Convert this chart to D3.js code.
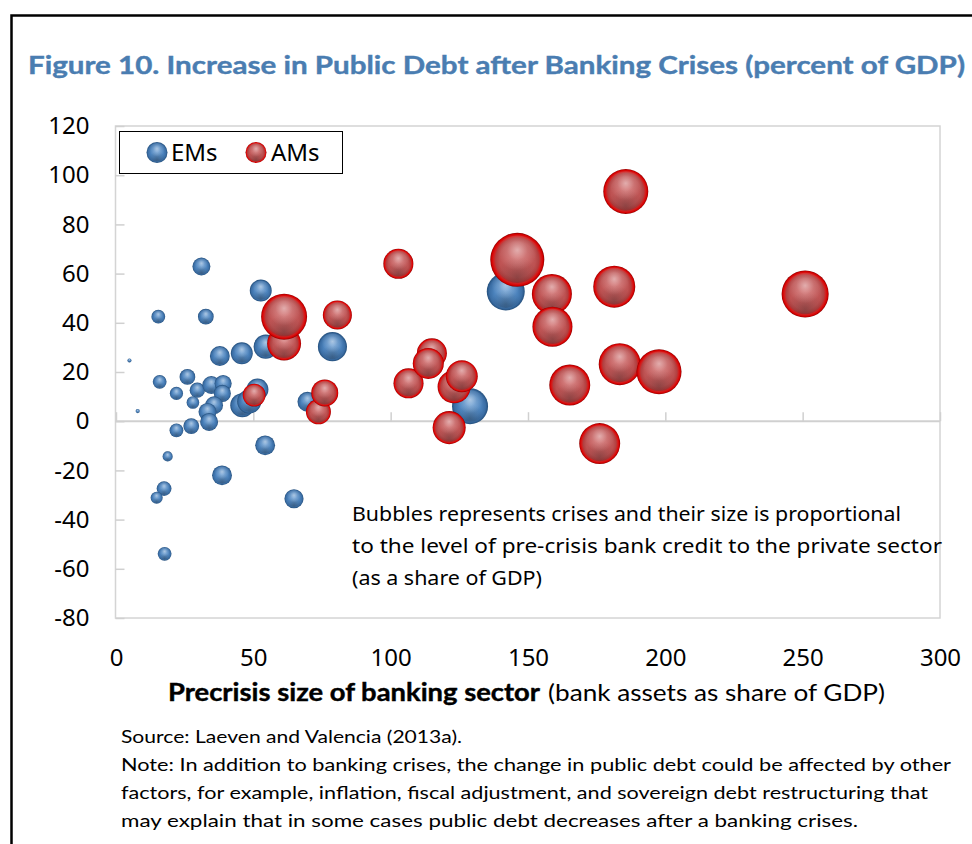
<!DOCTYPE html>
<html><head><meta charset="utf-8">
<script src="https://cdn.jsdelivr.net/npm/d3@7"></script>
<style>body{margin:0;background:#fff} svg{display:block}</style>
</head><body><svg id="c" width="972" height="844"></svg>
<script>
// ---- data ----
const emX      = [4.9, 7.9, 15.4, 15.9, 22.0, 26.0, 29.6, 28.0, 34.7, 39.0, 38.7, 35.7, 33.3, 33.9, 27.4, 22.0, 18.8, 38.6, 17.5, 14.8, 17.7, 54.3, 64.8, 37.8, 45.8, 31.1, 32.7, 52.7, 54.5, 78.8, 46.0, 48.5, 51.5, 69.7, 141.9, 128.9];
const emY      = [24.7, 4.1, 42.5, 16.0, 11.3, 18.0, 12.6, 7.6, 14.7, 15.3, 11.3, 6.5, 3.8, -0.3, -2.0, -3.7, -14.3, -22.0, -27.4, -31.1, -53.9, -9.8, -31.5, 26.5, 27.6, 62.9, 42.5, 53.1, 30.3, 30.3, 6.5, 8.0, 12.9, 7.9, 52.7, 6.1];
const emCredit = [1.1, 1.2, 13, 13, 12, 17, 16, 11, 22, 20, 20, 22, 22, 22, 17, 13, 7, 27, 15, 10, 13, 27, 25, 27, 33, 22, 17, 33, 40, 58, 40, 40, 33, 27, 99, 89];

const amX      = [61.2, 61.2, 80.6, 50.3, 73.7, 76.0, 102.8, 106.5, 115.0, 113.7, 121.3, 123.1, 125.9, 146.1, 158.7, 158.9, 165.2, 176.1, 181.4, 183.4, 185.6, 197.7, 250.9];
const amY      = [31.6, 42.5, 43.2, 10.6, 3.8, 11.5, 64.0, 15.4, 27.6, 23.5, -2.6, 14.0, 18.3, 65.6, 51.7, 38.4, 14.7, -9.1, 54.7, 23.2, 93.4, 20.1, 51.7];
const amCredit = [79, 145, 58, 36, 43, 50, 62, 62, 62, 66, 75, 75, 70, 200, 110, 110, 115, 115, 121, 121, 139, 139, 152];

const seriesNames = ["EMs", "AMs"];
const xTicks = [0, 50, 100, 150, 200, 250, 300];
const yTicks = [-80, -60, -40, -20, 0, 20, 40, 60, 80, 100, 120];

const titleText = "Figure 10. Increase in Public Debt after Banking Crises (percent of GDP)";
const xTitleBold = "Precrisis size of banking sector";
const xTitleRest = "(bank assets as share of GDP)";
const noteLines = [
  "Bubbles represents crises and their size is proportional",
  "to the level of pre-crisis bank credit to the private sector",
  "(as a share of GDP)"
];
const sourceLines = [
  "Source: Laeven and Valencia (2013a).",
  "Note: In addition to banking crises, the change in public debt could be affected by other",
  "factors, for example, inflation, fiscal adjustment, and sovereign debt restructuring that",
  "may explain that in some cases public debt decreases after a banking crises."
];

// ---- layout ----
const svg = d3.select("#c");
const L = 116, R = 940, T = 126, B = 618;
const x = d3.scaleLinear().domain([0, 300]).range([L, R]);
const y = d3.scaleLinear().domain([-80, 120]).range([B, T]);
const rScale = d3.scaleSqrt().domain([0, 200]).range([0, 27]);
const fmt = d => String(d);

// ---- gradients ----
const defs = svg.append("defs");
function radial(id, stops, cx = "50%", cy = "50%", r = "50%") {
  const g = defs.append("radialGradient").attr("id", id)
    .attr("cx", cx).attr("cy", cy).attr("r", r);
  stops.forEach(s => g.append("stop").attr("offset", s[0]).attr("stop-color", s[1]).attr("stop-opacity", s[2] == null ? 1 : s[2]));
}
radial("gBlue", [[0, "#6a9ed4"], [0.6, "#4c83bd"], [0.86, "#3b6ea5"], [1, "#244f7c"]]);
radial("gRed", [[0, "#cf6666"], [0.66, "#bd5252"], [0.8, "#b24040"], [0.88, "#d41c1c"], [0.95, "#d80000"], [1, "#880000"]]);
radial("hiLite", [[0, "#ffffff", 0.5], [0.5, "#ffffff", 0.16], [1, "#ffffff", 0]], "50%", "30%", "42%");
radial("shade", [[0, "#202020", 0.3], [0.6, "#202020", 0.1], [1, "#202020", 0]], "50%", "88%", "45%");

function bubble(sel, cx, cy, r, base) {
  const g = sel.append("g");
  g.append("circle").attr("cx", cx).attr("cy", cy).attr("r", r).attr("fill", `url(#${base})`);
  g.append("circle").attr("cx", cx).attr("cy", cy).attr("r", r * 0.86).attr("fill", "url(#shade)");
  g.append("circle").attr("cx", cx).attr("cy", cy).attr("r", r * 0.9).attr("fill", "url(#hiLite)");
}

// ---- frame ----
svg.append("path").attr("d", "M11.5,844 V15.5 H972").attr("fill", "none").attr("stroke", "#000").attr("stroke-width", 2.5);

// ---- title ----
svg.append("text").attr("x", 28).attr("y", 74)
  .attr("font-family", "Lato, 'Open Sans', sans-serif").attr("font-weight", "bold").attr("font-size", 25)
  .attr("fill", "#4a7db1").attr("stroke", "#4a7db1").attr("stroke-width", 0.4)
  .attr("textLength", 937).attr("lengthAdjust", "spacingAndGlyphs")
  .text(titleText);

// ---- plot area ----
svg.append("rect").attr("x", 115.5).attr("y", T).attr("width", R - 115.5).attr("height", B - T)
  .attr("fill", "none").attr("stroke", "#d4d4d4").attr("stroke-width", 1.5);

// zero line
svg.append("line").attr("x1", 115.5).attr("x2", R).attr("y1", y(0)).attr("y2", y(0))
  .attr("stroke", "#d0d0d0").attr("stroke-width", 2);

// y axis (ticks inside, labels outside)
const yAxis = svg.append("g").attr("transform", "translate(115.5,0)")
  .call(d3.axisLeft(y).tickValues(yTicks).tickSizeInner(-9).tickSizeOuter(0).tickPadding(26).tickFormat(fmt));
yAxis.select(".domain").remove();
yAxis.selectAll(".tick line").attr("stroke", "#d0d0d0").attr("stroke-width", 1.5);
yAxis.selectAll("text").attr("font-family", "'Noto Sans', 'Open Sans', sans-serif").attr("font-size", 24).attr("fill", "#000");

// x ticks on zero line
const xTickAxis = svg.append("g").attr("transform", `translate(0,${y(0)})`)
  .call(d3.axisBottom(x).tickValues(xTicks).tickSizeInner(-9).tickSizeOuter(0).tickFormat(""));
xTickAxis.select(".domain").remove();
xTickAxis.selectAll(".tick line").attr("stroke", "#d0d0d0").attr("stroke-width", 1.5);

// x labels at bottom
const xLab = svg.append("g").attr("transform", `translate(0,${B})`)
  .call(d3.axisBottom(x).tickValues(xTicks).tickSize(0).tickPadding(31).tickFormat(fmt));
xLab.select(".domain").remove();
xLab.selectAll("text").attr("font-family", "'Noto Sans', 'Open Sans', sans-serif").attr("font-size", 24).attr("fill", "#000");

// ---- bubbles ----
const em = emX.map((v, i) => ({ x: v, y: emY[i], c: emCredit[i] }));
const am = amX.map((v, i) => ({ x: v, y: amY[i], c: amCredit[i] }));
const gB = svg.append("g");
em.forEach(d => bubble(gB, x(d.x), y(d.y), rScale(d.c), "gBlue"));
am.forEach(d => bubble(gB, x(d.x), y(d.y), rScale(d.c), "gRed"));

// ---- legend ----
const lg = svg.append("g");
lg.append("rect").attr("x", 119.5).attr("y", 131.5).attr("width", 223).attr("height", 42)
  .attr("fill", "#fff").attr("stroke", "#000").attr("stroke-width", 1);
bubble(lg, 157, 152.5, 10.5, "gBlue");
bubble(lg, 256, 152.5, 10.5, "gRed");
lg.append("text").attr("x", 171).attr("y", 161).attr("font-family", "'Noto Sans', sans-serif").attr("font-size", 24).text(seriesNames[0]);
lg.append("text").attr("x", 271).attr("y", 161).attr("font-family", "'Noto Sans', sans-serif").attr("font-size", 24).text(seriesNames[1]);

// ---- annotation ----
const noteWidths = [549, 590, 190];
noteLines.forEach((t, i) => {
  svg.append("text").attr("x", 352).attr("y", 521 + i * 32)
    .attr("font-family", "'Noto Sans', sans-serif").attr("font-size", 19).attr("fill", "#000")
    .attr("textLength", noteWidths[i]).attr("lengthAdjust", "spacingAndGlyphs").text(t);
});

// ---- x axis title ----
svg.append("text").attr("x", 168).attr("y", 701)
  .attr("font-family", "Lato, sans-serif").attr("font-weight", "bold").attr("font-size", 24)
  .attr("stroke", "#000").attr("stroke-width", 0.4)
  .attr("textLength", 372).attr("lengthAdjust", "spacingAndGlyphs").text(xTitleBold);
svg.append("text").attr("x", 548).attr("y", 701)
  .attr("font-family", "Lato, sans-serif").attr("font-size", 24)
  .attr("textLength", 337).attr("lengthAdjust", "spacingAndGlyphs").text(xTitleRest);

// ---- source / note ----
const srcWidths = [341, 830, 807, 737];
sourceLines.forEach((t, i) => {
  svg.append("text").attr("x", 121).attr("y", 743 + i * 28)
    .attr("font-family", "Lato, sans-serif").attr("font-size", 18).attr("fill", "#000")
    .attr("textLength", srcWidths[i]).attr("lengthAdjust", "spacingAndGlyphs").text(t);
});
</script>
</body></html>
